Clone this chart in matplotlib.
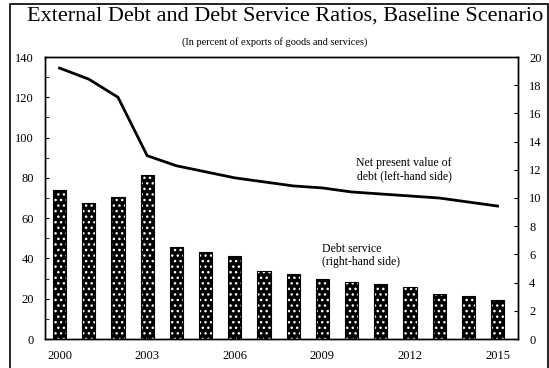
import numpy as np
import matplotlib.pyplot as plt
from matplotlib.patches import Rectangle

plt.rcParams['font.family'] = ['Liberation Serif', 'DejaVu Serif']
plt.rcParams['hatch.linewidth'] = 1.0

years = list(range(2000, 2016))
npv_debt = [134.5, 129, 120, 91, 86, 83, 80, 78, 76, 75, 73, 72, 71, 70, 68, 66]
debt_service = [10.6, 9.65, 10.1, 11.6, 6.5, 6.2, 5.9, 4.8, 4.6, 4.25, 4.05, 3.9, 3.7, 3.2, 3.05, 2.75]
xtick_years = [2000, 2003, 2006, 2009, 2012, 2015]

fig = plt.figure(figsize=(5.49, 3.68), dpi=100)
ax = fig.add_axes([45 / 549, 1 - 339 / 368, 473 / 549, 282 / 368])
ax2 = ax.twinx()

# bars on right axis
ax2.bar(years, debt_service, width=0.45, color="black", edgecolor="white", hatch="...", linewidth=0)
ax2.bar(years, debt_service, width=0.45, color="none", edgecolor="black", linewidth=0.8)
ax2.set_ylim(0, 20)
ax2.set_yticks(range(0, 21, 2))
ax2.set_yticks(range(0, 21, 1), minor=True)
ax2.tick_params(axis="y", direction="in", length=3, labelsize=9, pad=8)
ax2.tick_params(axis="y", which="minor", length=0)

# line on left axis, drawn above bars
ax.set_zorder(ax2.get_zorder() + 1)
ax.patch.set_visible(False)
ax.plot(years, npv_debt, color="black", linewidth=2)
ax.set_ylim(0, 140)
ax.set_yticks(range(0, 141, 20))
ax.set_yticks(range(0, 141, 10), minor=True)
ax.tick_params(axis="y", which="both", direction="in", length=3, labelsize=9, pad=8)
ax.set_xlim(1999.5, 2015.7)
ax.set_xticks(xtick_years)
ax.set_xticks(years, minor=True)
ax.tick_params(axis="x", which="both", direction="in", length=3, labelsize=9, pad=8)

for a in (ax, ax2):
    for s in a.spines.values():
        s.set_linewidth(1.0)

ax.text(2011.8, 84, "Net present value of\ndebt (left-hand side)", ha="center", va="center",
        fontsize=8.5, linespacing=1.1)
ax2.text(2009.0, 5.95, "Debt service\n(right-hand side)", ha="left", va="center",
         fontsize=8.5, linespacing=1.1)

fig.text(0.52, 1 - 16 / 368, "External Debt and Debt Service Ratios, Baseline Scenario",
         ha="center", va="center", fontsize=16)
fig.text(0.50, 1 - 42 / 368, "(In percent of exports of goods and services)",
         ha="center", va="center", fontsize=7.5)

fig.patches.append(Rectangle((10 / 549, -0.01), 538 / 549, 1 - 4 / 368 + 0.01,
                             transform=fig.transFigure, fill=False, edgecolor="black", linewidth=1.2))

fig.savefig("out.png", dpi=100)
